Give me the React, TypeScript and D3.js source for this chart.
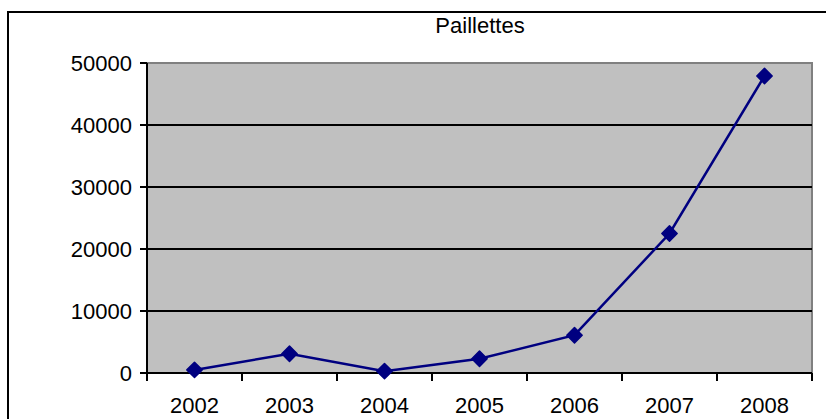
import * as d3 from "d3";

const years = ["2002", "2003", "2004", "2005", "2006", "2007", "2008"];
const values = [500, 3100, 300, 2300, 6100, 22500, 47900];
const yTicks = [0, 10000, 20000, 30000, 40000, 50000];

const W = 826;
const H = 419;
const left = 147;
const right = 812;
const top = 63;
const bottom = 373;
const font = "'Liberation Sans', Arial, sans-serif";
const fs = 22;

export default function App() {
  const x = d3.scaleBand<string>().domain(years).range([left, right]);
  const y = d3.scaleLinear().domain([0, 50000]).range([bottom, top]);
  const cx = (i: number) => (x(years[i]) ?? 0) + x.bandwidth() / 2;
  const line = d3
    .line<number>()
    .x((_, i) => cx(i))
    .y((d) => y(d));
  const diamond = d3.symbol(d3.symbolDiamond2, 150)();
  const bounds = years.map((yr) => x(yr) ?? 0).concat([right]);

  return (
    <svg
      width={W}
      height={H}
      style={{ position: "absolute", left: 0, top: 0, background: "#fff" }}
    >
      <rect x={8} y={12} width={W + 10} height={H + 10} fill="none" stroke="#000" strokeWidth={2} />
      <text x={480} y={33} textAnchor="middle" fontFamily={font} fontSize={fs}>
        Paillettes
      </text>
      <rect x={left} y={top} width={right - left} height={bottom - top} fill="#c0c0c0" />
      <path d={`M${left},${top}H${right}V${bottom}`} fill="none" stroke="#808080" strokeWidth={2} />
      {yTicks.slice(1, -1).map((t) => (
        <line key={t} x1={left} x2={right} y1={y(t)} y2={y(t)} stroke="#000" strokeWidth={2} />
      ))}
      <line x1={left} x2={right} y1={bottom} y2={bottom} stroke="#000" strokeWidth={2} />
      <line x1={left} x2={left} y1={top} y2={bottom} stroke="#000" strokeWidth={2} />
      {yTicks.map((t) => (
        <g key={t}>
          <line x1={left - 7} x2={left} y1={y(t)} y2={y(t)} stroke="#000" strokeWidth={2} />
          <text
            x={left - 15}
            y={y(t)}
            dy="0.36em"
            textAnchor="end"
            fontFamily={font}
            fontSize={fs}
          >
            {t}
          </text>
        </g>
      ))}
      {bounds.map((b, i) => (
        <line key={i} x1={b} x2={b} y1={bottom} y2={bottom + 8} stroke="#000" strokeWidth={2} />
      ))}
      {years.map((yr, i) => (
        <text key={yr} x={cx(i)} y={413} textAnchor="middle" fontFamily={font} fontSize={fs}>
          {yr}
        </text>
      ))}
      <path d={line(values) ?? ""} fill="none" stroke="#000080" strokeWidth={2.5} />
      {values.map((v, i) => (
        <path
          key={i}
          d={diamond ?? ""}
          transform={`translate(${cx(i)},${y(v)})`}
          fill="#000080"
          stroke="#000080"
          strokeWidth={1.5}
          strokeLinejoin="round"
        />
      ))}
    </svg>
  );
}
